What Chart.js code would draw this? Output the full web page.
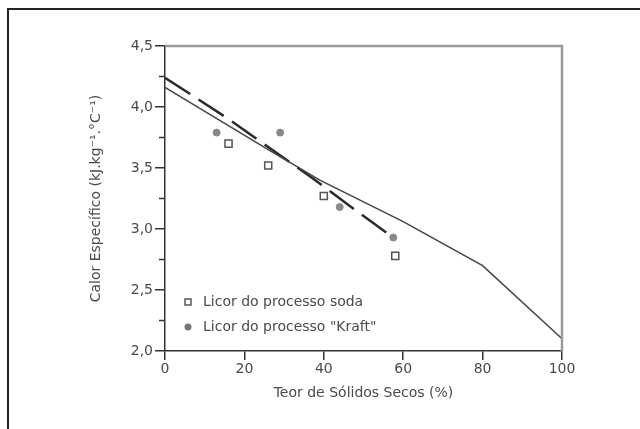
<!DOCTYPE html>
<html>
<head>
<meta charset="utf-8">
<title>Calor específico do licor negro</title>
<script src="https://cdn.jsdelivr.net/npm/chart.js@4.4.1/dist/chart.umd.min.js"></script>
<style>
  html, body { margin: 0; padding: 0; background: #fff; overflow: hidden; }
  #frame { position: absolute; left: 7px; top: 8px; width: 700px; height: 500px;
           border: 2px solid #222; box-sizing: border-box; }
  #wrap { position: absolute; left: 0; top: 0; width: 640px; height: 429px; }
</style>
</head>
<body>
<div id="frame"></div>
<div id="wrap"><canvas id="c" width="640" height="429"></canvas></div>
<script>
// Measured specific heat, soda liquor (open squares)
const sodaSolids = [16, 26, 40, 58];
const sodaCp     = [3.70, 3.52, 3.27, 2.78];

// Measured specific heat, kraft liquor (grey dots)
const kraftSolids = [13, 29, 44, 57.5];
const kraftCp     = [3.79, 3.79, 3.18, 2.93];

// Correlation over the full solids range (thin solid line)
const corrSolids = [0, 26, 39, 60, 80, 100];
const corrCp     = [4.16, 3.65, 3.40, 3.06, 2.70, 2.10];

// Kraft fit (dashed line)
const fitSolids = [0, 15.6, 37, 49, 57.5];
const fitCp     = [4.24, 3.91, 3.42, 3.13, 2.93];

const xTicks = [0, 20, 40, 60, 80, 100];
const yMinorTicks = [2.25, 2.75, 3.25, 3.75, 4.25];

const legendItems = ['Licor do processo soda', 'Licor do processo "Kraft"'];

const FONT = 'DejaVu Sans';
const TEXT = '#4a4a4a';

const pts = (xs, ys) => xs.map((x, i) => ({ x: x, y: ys[i] }));
const comma = v => Number(v).toFixed(1).replace('.', ',');

// Grey frame on top/right, minor ticks on y, and the legend inside the plot
const decor = {
  id: 'decor',
  afterDraw(chart) {
    const { ctx, chartArea: a, scales } = chart;
    ctx.save();
    ctx.strokeStyle = '#9a9a9a';
    ctx.lineWidth = 2.5;
    ctx.beginPath();
    ctx.moveTo(a.left, a.top);
    ctx.lineTo(a.right, a.top);
    ctx.lineTo(a.right, a.bottom);
    ctx.stroke();

    ctx.strokeStyle = '#333';
    ctx.lineWidth = 1.5;
    yMinorTicks.forEach(v => {
      const y = scales.y.getPixelForValue(v);
      ctx.beginPath();
      ctx.moveTo(a.left - 6, y);
      ctx.lineTo(a.left, y);
      ctx.stroke();
    });

    // legend
    const lx = a.left + 23;
    const rows = [a.bottom - 49, a.bottom - 24];
    ctx.font = '14px "' + FONT + '"';
    ctx.textBaseline = 'middle';
    ctx.textAlign = 'left';
    ctx.fillStyle = TEXT;
    legendItems.forEach((t, i) => ctx.fillText(t, lx + 15, rows[i]));
    ctx.fillStyle = '#fff';
    ctx.strokeStyle = '#555';
    ctx.lineWidth = 1.5;
    ctx.fillRect(lx - 3, rows[0] - 3, 6, 6);
    ctx.strokeRect(lx - 3, rows[0] - 3, 6, 6);
    ctx.fillStyle = '#777';
    ctx.beginPath();
    ctx.arc(lx, rows[1], 3.5, 0, Math.PI * 2);
    ctx.fill();
    ctx.restore();
  }
};

new Chart(document.getElementById('c'), {
  type: 'scatter',
  data: {
    datasets: [
      {
        label: 'Correlação',
        data: pts(corrSolids, corrCp),
        showLine: true,
        borderColor: '#444',
        borderWidth: 1.5,
        pointRadius: 0,
        tension: 0
      },
      {
        label: 'Ajuste Kraft',
        data: pts(fitSolids, fitCp),
        showLine: true,
        borderColor: '#2a2a2a',
        borderWidth: 2.5,
        borderDash: [30, 10],
        pointRadius: 0,
        tension: 0
      },
      {
        label: legendItems[0],
        data: pts(sodaSolids, sodaCp),
        pointStyle: 'rect',
        pointRadius: 5,
        backgroundColor: '#fff',
        borderColor: '#555',
        borderWidth: 1.5
      },
      {
        label: legendItems[1],
        data: pts(kraftSolids, kraftCp),
        pointStyle: 'circle',
        pointRadius: 3.5,
        backgroundColor: '#888',
        borderColor: '#888',
        borderWidth: 1
      }
    ]
  },
  options: {
    responsive: false,
    animation: false,
    devicePixelRatio: 1,
    layout: { padding: { left: 0, top: 46, right: 78, bottom: 0 } },
    plugins: {
      legend: { display: false },
      tooltip: { enabled: false }
    },
    scales: {
      x: {
        type: 'linear',
        min: 0,
        max: 100,
        afterFit(s) { s.height = 78; },
        afterBuildTicks(s) { s.ticks = xTicks.map(v => ({ value: v })); },
        ticks: {
          padding: 1,
          color: TEXT,
          font: { family: FONT, size: 14 },
          maxRotation: 0
        },
        grid: { drawOnChartArea: false, drawTicks: true, tickLength: 9, color: '#333', lineWidth: 1.5 },
        border: { display: true, color: '#333', width: 1.5 },
        title: {
          display: true,
          text: 'Teor de Sólidos Secos (%)',
          color: TEXT,
          font: { family: FONT, size: 14 },
          padding: { top: 0, bottom: 27 }
        }
      },
      y: {
        type: 'linear',
        min: 2,
        max: 4.5,
        afterFit(s) { s.width = 165; },
        ticks: {
          stepSize: 0.5,
          padding: 2,
          color: TEXT,
          font: { family: FONT, size: 14 },
          callback: v => comma(v)
        },
        grid: { drawOnChartArea: false, drawTicks: true, tickLength: 10, color: '#333', lineWidth: 1.5 },
        border: { display: true, color: '#333', width: 1.5 },
        title: {
          display: true,
          text: 'Calor Específico (kJ.kg⁻¹.°C⁻¹)',
          color: TEXT,
          font: { family: FONT, size: 14 },
          padding: { top: 88, bottom: 0 }
        }
      }
    }
  },
  plugins: [decor]
});
</script>
</body>
</html>
